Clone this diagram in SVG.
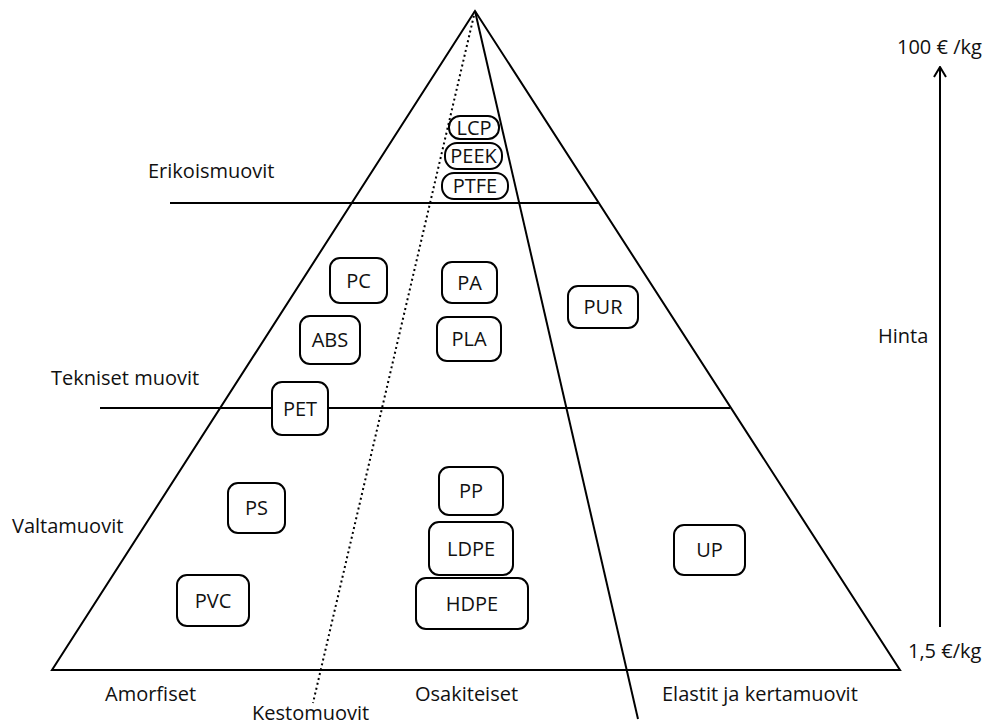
<svg xmlns="http://www.w3.org/2000/svg" width="988" height="726" viewBox="0 0 988 726">
<defs>
<style>
text{font-family:"Open Sans","Noto Sans",sans-serif;font-size:20px;fill:#111}
.bx rect{fill:#fff;stroke:#000;stroke-width:2}
.bx text{text-anchor:middle}
.ln{stroke:#000;stroke-width:2;fill:none}
</style>
<marker id="ah" viewBox="0 0 14 14" refX="13" refY="7" markerWidth="14" markerHeight="14" markerUnits="userSpaceOnUse" orient="auto">
<path d="M3,1 L13,7 L3,13" fill="none" stroke="#000" stroke-width="2"/>
</marker>
</defs>
<rect width="988" height="726" fill="#fff"/>
<g id="connectors">
<polygon class="ln" points="475,11 52,670 900,670"/>
<line class="ln" x1="475" y1="11" x2="313" y2="703" stroke-dasharray="2,3"/>
<line class="ln" x1="475" y1="11" x2="638" y2="719"/>
<line class="ln" x1="170" y1="203" x2="598" y2="203"/>
<line class="ln" x1="100" y1="408" x2="730" y2="408"/>
<line class="ln" x1="940" y1="627" x2="940" y2="67" marker-end="url(#ah)"/>
</g>
<g id="labels">
<text x="148" y="178">Erikoismuovit</text>
<text x="51" y="385">Tekniset muovit</text>
<text x="12" y="533">Valtamuovit</text>
<text x="878" y="343">Hinta</text>
<text x="897" y="54">100 € /kg</text>
<text x="908" y="658">1,5 €/kg</text>
<text x="105" y="701">Amorfiset</text>
<text x="252" y="720">Kestomuovit</text>
<text x="415" y="701">Osakiteiset</text>
<text x="662" y="701">Elastit ja kertamuovit</text>
</g>
<g id="LCP" class="bx"><rect x="449" y="116" width="50" height="23" rx="11"/><text x="474" y="135">LCP</text></g>
<g id="PEEK" class="bx"><rect x="445" y="143" width="57" height="26" rx="12"/><text x="473.5" y="163">PEEK</text></g>
<g id="PTFE" class="bx"><rect x="442" y="173" width="66" height="26" rx="12"/><text x="475" y="193">PTFE</text></g>
<g id="PC" class="bx"><rect x="330" y="258" width="57" height="45" rx="10"/><text x="358.5" y="288">PC</text></g>
<g id="PA" class="bx"><rect x="442" y="262" width="55" height="41" rx="10"/><text x="469.5" y="290">PA</text></g>
<g id="ABS" class="bx"><rect x="300" y="316" width="60" height="48" rx="10"/><text x="330" y="347">ABS</text></g>
<g id="PLA" class="bx"><rect x="437" y="317" width="64" height="44" rx="10"/><text x="469" y="346">PLA</text></g>
<g id="PUR" class="bx"><rect x="568" y="286" width="70" height="42" rx="10"/><text x="603" y="314">PUR</text></g>
<g id="PET" class="bx"><rect x="272" y="382" width="56" height="53" rx="10"/><text x="300" y="416">PET</text></g>
<g id="PS" class="bx"><rect x="228" y="483" width="57" height="50" rx="10"/><text x="256.5" y="515">PS</text></g>
<g id="PVC" class="bx"><rect x="177" y="575" width="72" height="51" rx="10"/><text x="213" y="608">PVC</text></g>
<g id="PP" class="bx"><rect x="439" y="467" width="64" height="48" rx="10"/><text x="471" y="498">PP</text></g>
<g id="LDPE" class="bx"><rect x="429" y="522" width="84" height="53" rx="10"/><text x="471" y="556">LDPE</text></g>
<g id="HDPE" class="bx"><rect x="416" y="578" width="112" height="51" rx="10"/><text x="472" y="611">HDPE</text></g>
<g id="UP" class="bx"><rect x="674" y="525" width="71" height="50" rx="10"/><text x="709.5" y="557">UP</text></g>
</svg>
